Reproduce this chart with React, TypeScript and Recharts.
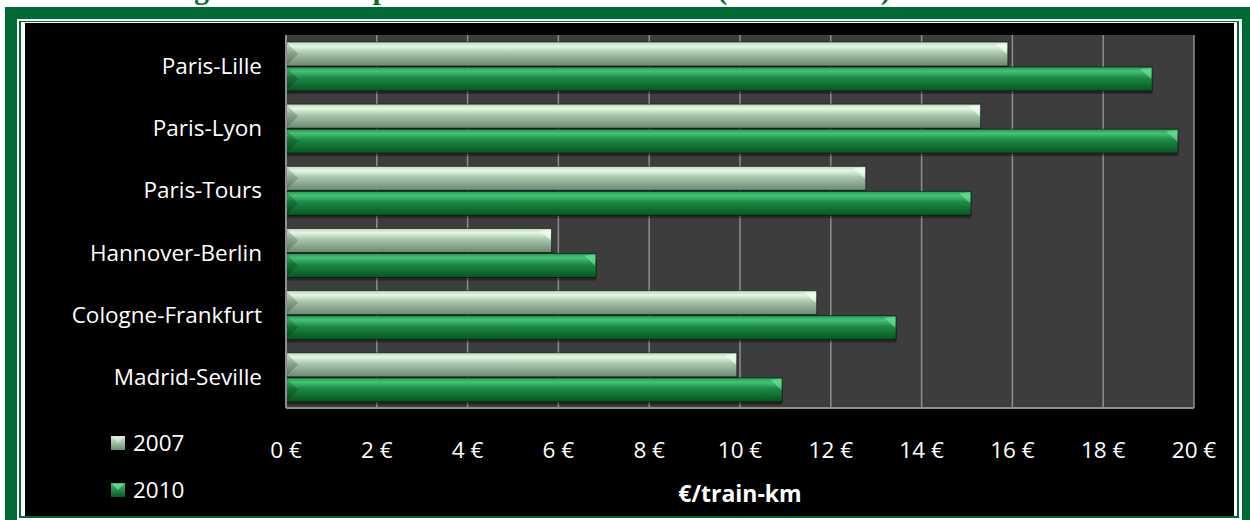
import { Bar, BarChart, CartesianGrid, Legend, XAxis, YAxis } from 'recharts';

const routes = ['Paris-Lille', 'Paris-Lyon', 'Paris-Tours', 'Hannover-Berlin', 'Cologne-Frankfurt', 'Madrid-Seville'];
const values2007 = [15.9, 15.3, 12.77, 5.85, 11.69, 9.93];
const values2010 = [19.08, 19.65, 15.09, 6.83, 13.44, 10.93];
const xTicks = [0, 2, 4, 6, 8, 10, 12, 14, 16, 18, 20];

const data = routes.map((route, i) => ({ route, y2007: values2007[i], y2010: values2010[i] }));

const GREEN = '#016a34';
const FONT = '"Open Sans", sans-serif';
const FS = 22.5;

const BevelBar = (props: any) => {
  const { x, y, width, height, gradient, cap } = props;
  if (!width || width <= 0) return null;
  const c = Math.min(12, width / 2);
  return (
    <g>
      <rect x={x} y={y + 3} width={width} height={height} fill="rgba(0,0,0,0.35)" />
      <rect x={x} y={y} width={width} height={height} fill={`url(#${gradient})`} stroke="rgba(0,0,0,0.55)" strokeWidth={1} />
      <polygon points={`${x + width - c},${y + 2} ${x + width - 1},${y + 1} ${x + width - 1},${y + height / 2}`} fill={cap} opacity={0.7} />
      <polygon points={`${x + 1},${y + 1} ${x + c},${y + height / 2} ${x + 1},${y + height - 1}`} fill="rgba(0,0,0,0.18)" />
    </g>
  );
};

const LegendBox = () => (
  <div style={{ fontFamily: FONT, fontSize: FS, color: '#fff' }}>
    {[
      { label: '2007', grad: 'g2007' },
      { label: '2010', grad: 'g2010' },
    ].map((it) => (
      <div key={it.label} style={{ display: 'flex', alignItems: 'center', height: 47 }}>
        <svg width={14} height={14} style={{ marginRight: 8 }}>
          <rect x={0} y={0} width={14} height={14} fill={`url(#${it.grad}L)`} />
          <polygon points="1,1 13,1 7,7" fill="rgba(255,255,255,0.35)" />
          <defs>
            <linearGradient id={`${it.grad}L`} x1="0" y1="0" x2="0" y2="1">
              <stop offset="0%" stopColor={it.label === '2007' ? '#d6efd6' : '#3cbf6c'} />
              <stop offset="100%" stopColor={it.label === '2007' ? '#6f8c75' : '#0a5a26'} />
            </linearGradient>
          </defs>
        </svg>
        <span>{it.label}</span>
      </div>
    ))}
  </div>
);

export default function App() {
  return (
    <div style={{ position: 'relative', width: 1250, height: 520, background: '#fff', overflow: 'hidden' }}>
      <style>{`body{margin:0}`}</style>
      <svg width={1250} height={8} style={{ position: 'absolute', left: 0, top: 0 }}>
        <text x={118} y={-1} fill="#0d6b36" fontFamily='"Liberation Serif", serif' fontWeight="bold" fontSize={30}>
          Average Tariff Comparison of Selected Routes (€ / train-km)
        </text>
      </svg>
      <div style={{ position: 'absolute', left: 5, top: 7, width: 1245, height: 520, background: GREEN }} />
      <div style={{ position: 'absolute', left: 17, top: 19, width: 1225, height: 501, background: '#fff' }} />
      <div style={{ position: 'absolute', left: 19, top: 21, width: 1220, height: 497, background: GREEN }} />
      <div style={{ position: 'absolute', left: 21, top: 22, width: 1216, height: 494, background: '#fff' }} />
      <div style={{ position: 'absolute', left: 25, top: 23, width: 1209, height: 493, background: '#000' }}>
        <BarChart
          width={1209}
          height={493}
          data={data}
          layout="vertical"
          margin={{ top: 12, right: 40, left: 0, bottom: 0 }}
          barSize={24}
          barGap={1}
        >
          <defs>
            <linearGradient id="g2007" x1="0" y1="0" x2="0" y2="1">
              <stop offset="0%" stopColor="#b9d9bb" />
              <stop offset="18%" stopColor="#e4f7e3" />
              <stop offset="45%" stopColor="#a8c7ab" />
              <stop offset="100%" stopColor="#6b8870" />
            </linearGradient>
            <linearGradient id="g2010" x1="0" y1="0" x2="0" y2="1">
              <stop offset="0%" stopColor="#1f9a4e" />
              <stop offset="18%" stopColor="#46c277" />
              <stop offset="45%" stopColor="#1b8a45" />
              <stop offset="100%" stopColor="#075420" />
            </linearGradient>
          </defs>
          <CartesianGrid horizontal={false} stroke="#8e8e8e" strokeWidth={1.5} fill="#3d3d3d" />
          <XAxis
            type="number"
            domain={[0, 20]}
            ticks={xTicks}
            tickFormatter={(v) => `${v} €`}
            height={108}
            tickLine={false}
            tickSize={0}
            tickMargin={34}
            axisLine={{ stroke: '#8e8e8e', strokeWidth: 2 }}
            tick={{ fill: '#fff', fontSize: FS, fontFamily: FONT }}
            label={{ value: '€/train-km', position: 'insideBottom', offset: 14, fill: '#fff', fontSize: 23, fontWeight: 'bold', fontFamily: FONT }}
          />
          <YAxis
            type="category"
            dataKey="route"
            width={261}
            tickLine={false}
            tickSize={0}
            tickMargin={24}
            axisLine={{ stroke: '#8e8e8e', strokeWidth: 2 }}
            tick={{ fill: '#fff', fontSize: FS, fontFamily: FONT }}
          />
          <Legend
            layout="vertical"
            align="center"
            verticalAlign="middle"
            wrapperStyle={{ left: 86, top: 396, width: 130 }}
            content={() => <LegendBox />}
          />
          <Bar dataKey="y2007" name="2007" isAnimationActive={false} shape={(p: any) => <BevelBar {...p} gradient="g2007" cap="#f2fff2" />} />
          <Bar dataKey="y2010" name="2010" isAnimationActive={false} shape={(p: any) => <BevelBar {...p} gradient="g2010" cap="#6fe09a" />} />
        </BarChart>
      </div>
    </div>
  );
}
